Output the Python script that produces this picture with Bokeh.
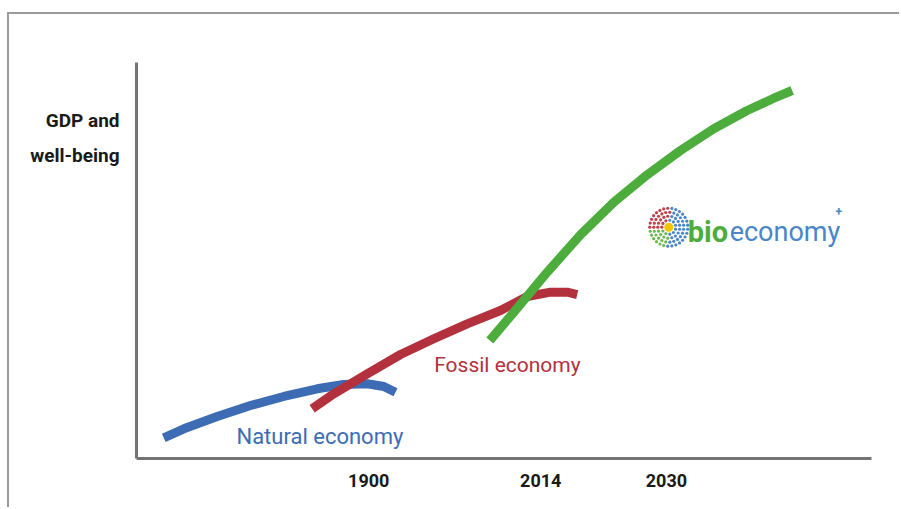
from bokeh.plotting import figure
from bokeh.models import Label, FixedTicker, Range1d
from bokeh.embed import file_html
from bokeh.resources import INLINE
import math

# ---- data (schematic units: x 0..100 across the axis, y 0..100 up the axis) ----
natural_x = [3.71, 6.44, 10.98, 15.51, 20.04, 24.59, 28.20, 31.39, 33.65, 35.24]
natural_y = [5.23, 7.50, 10.61, 13.38, 15.66, 17.60, 18.69, 18.86, 18.18, 16.74]

fossil_x = [23.90, 26.84, 31.39, 35.92, 40.45, 44.99, 49.52, 53.16, 56.33, 58.60, 59.96]
fossil_y = [12.55, 16.34, 21.39, 26.26, 30.23, 34.01, 37.37, 40.91, 42.00, 42.00, 41.41]

bio_x = [48.07, 51.33, 55.88, 60.41, 64.94, 69.48, 74.01, 78.54, 83.09, 86.71, 89.21]
bio_y = [29.80, 36.94, 47.05, 56.49, 64.72, 71.64, 77.78, 83.26, 87.88, 90.98, 92.93]

x_tick_pos = [31.6, 55.0, 72.1]
x_tick_labels = ["1900", "2014", "2030"]

y_title_pos = [85.4, 76.5]
y_title_lines = ["GDP and", "well-being"]

BLUE = "#3d6cb4"
RED = "#b3303d"
GREEN = "#4cad3c"
LOGO_BLUE = "#4a86c8"
AXIS = "#747474"
FONT = "Roboto"

p = figure(width=892, height=495, output_backend="svg", toolbar_location=None,
           x_range=Range1d(0, 100), y_range=Range1d(0, 100),
           min_border_left=127, min_border_right=30, min_border_top=48,
           min_border_bottom=51)
p.styles = {"margin-left": "7px", "margin-top": "12px",
            "border-top": "2px solid #9a9a9a", "border-left": "2px solid #9a9a9a"}
p.outline_line_color = None
p.xgrid.grid_line_color = None
p.ygrid.grid_line_color = None
p.background_fill_color = "white"
p.border_fill_color = "white"

# y axis (its two labels form the axis title "GDP and / well-being")
p.yaxis.axis_line_width = 3
p.yaxis.axis_line_color = AXIS
p.yaxis.major_tick_line_color = None
p.yaxis.minor_tick_line_color = None
p.yaxis.ticker = FixedTicker(ticks=y_title_pos)
p.yaxis.major_label_overrides = {t: l for t, l in zip(y_title_pos, y_title_lines)}
p.yaxis.major_label_text_font = FONT
p.yaxis.major_label_text_font_style = "bold"
p.yaxis.major_label_text_font_size = "19px"
p.yaxis.major_label_text_color = "#1a1a1a"
p.yaxis.major_label_standoff = 11

# x axis
p.xaxis.axis_line_width = 3
p.xaxis.axis_line_color = AXIS
p.xaxis.major_tick_line_color = None
p.xaxis.minor_tick_line_color = None
p.xaxis.ticker = FixedTicker(ticks=x_tick_pos)
p.xaxis.major_label_overrides = {t: l for t, l in zip(x_tick_pos, x_tick_labels)}
p.xaxis.major_label_text_font = FONT
p.xaxis.major_label_text_font_style = "bold"
p.xaxis.major_label_text_font_size = "18px"
p.xaxis.major_label_text_color = "#1a1a1a"
p.xaxis.major_label_standoff = 9

# curves
for xs, ys, c in [(natural_x, natural_y, BLUE), (fossil_x, fossil_y, RED), (bio_x, bio_y, GREEN)]:
    p.line(xs, ys, line_color=c, line_width=9, line_cap="butt", line_join="round")

# texts
def lab(x, y, text, color, size, style="normal", align="left", baseline="middle"):
    p.add_layout(Label(x=x, y=y, text=text, text_color=color, text_font=FONT,
                       text_font_size=size, text_font_style=style,
                       text_align=align, text_baseline=baseline))

lab(13.6, 5.5, "Natural economy", BLUE, "22px")
lab(40.5, 23.5, "Fossil economy", RED, "21px")

# bioeconomy logo
lab(75.0, 57.3, "bio", GREEN, "29px", "bold", "left", "alphabetic")
lab(80.7, 57.3, "economy", LOGO_BLUE, "27px", "normal", "left", "alphabetic")
lab(95.1, 62.5, "+", LOGO_BLUE, "12px", "bold", "left", "alphabetic")

cx, cy = 72.42, 58.41
sx, sy = 7.35, 3.96
dx, dy, dc = [], [], []
for r, n in [(7, 11), (11, 17), (15, 23), (19, 29)]:
    for k in range(n):
        a = 2 * math.pi * (k + 0.5 * (r % 2)) / n
        deg = math.degrees(a) % 360
        if 85 <= deg < 190:
            c = "#c0404a"
        elif 190 <= deg < 265:
            c = "#6ab84e"
        else:
            c = LOGO_BLUE
        dx.append(cx + r * math.cos(a) / sx)
        dy.append(cy + r * math.sin(a) / sy)
        dc.append(c)
p.scatter(dx, dy, size=3.2, color=dc, line_color=None)
p.scatter([cx], [cy], size=9, color="#f2c500", line_color=None)

open("out.html", "w").write(file_html(p, INLINE))
